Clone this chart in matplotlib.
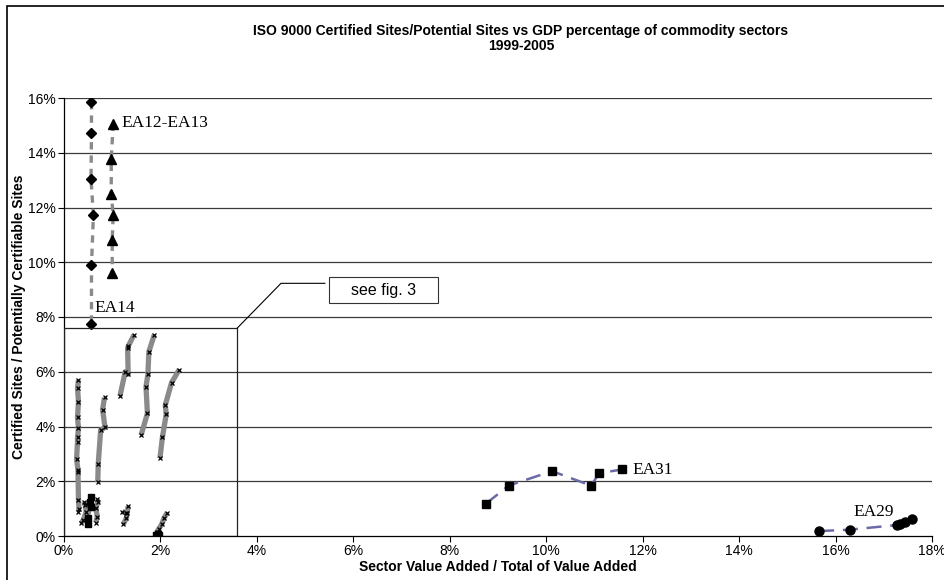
import matplotlib
matplotlib.use('Agg')
import matplotlib.pyplot as plt
from matplotlib.patches import Rectangle

plt.rcParams['font.family'] = ['Liberation Sans', 'DejaVu Sans']

# labelled sectors (values in %)
ea14_x = [0.57, 0.57, 0.56, 0.61, 0.57, 0.57]
ea14_y = [15.85, 14.72, 13.03, 11.72, 9.89, 7.74]

ea1213_x = [1.02, 0.98, 0.98, 1.02, 1.00, 1.00]
ea1213_y = [15.06, 13.78, 12.50, 11.72, 10.80, 9.61]

ea31_x = [8.75, 9.22, 10.12, 10.93, 11.10, 11.58]
ea31_y = [1.18, 1.84, 2.37, 1.84, 2.30, 2.43]

ea29_x = [15.66, 16.29, 17.27, 17.33, 17.43, 17.59]
ea29_y = [0.18, 0.23, 0.40, 0.43, 0.52, 0.61]

# small sectors shown in detail in fig. 3
small_sectors = [
    ([0.30, 0.28, 0.30, 0.28, 0.30, 0.28, 0.28, 0.26, 0.29, 0.29, 0.30, 0.31, 0.30],
     [5.69, 5.41, 4.90, 4.33, 3.93, 3.60, 3.44, 2.80, 2.41, 2.35, 1.31, 1.00, 0.89]),
    ([0.70, 0.71, 0.76, 0.85, 0.80, 0.84], [1.96, 2.63, 3.87, 3.97, 4.62, 5.06]),
    ([1.16, 1.27, 1.33, 1.32, 1.33, 1.45], [5.11, 6.00, 5.91, 6.85, 6.93, 7.34]),
    ([1.60, 1.73, 1.70, 1.74, 1.76, 1.87], [3.69, 4.48, 5.45, 5.91, 6.73, 7.34]),
    ([1.99, 2.04, 2.12, 2.10, 2.23, 2.39], [2.84, 3.60, 4.45, 4.78, 5.60, 6.08]),
    ([1.92, 1.96, 2.03, 2.07, 2.14], [0.13, 0.24, 0.44, 0.64, 0.85]),
    ([1.33, 1.31, 1.29, 1.23], [1.09, 0.83, 0.64, 0.43]),
    ([1.21, 1.29], [0.89, 0.85]),
    ([0.42, 0.44, 0.46, 0.40, 0.35], [1.25, 1.13, 0.89, 0.58, 0.46]),
    ([0.69, 0.70, 0.66, 0.69, 0.66], [1.34, 1.25, 1.01, 0.71, 0.49]),
]
sq_small_x = [0.55, 0.53, 0.57, 0.49, 0.49]
sq_small_y = [1.43, 1.25, 1.05, 0.64, 0.44]
sq_bottom_x = [1.90, 1.93, 1.96, 1.95]
sq_bottom_y = [0.05, 0.03, 0.02, 0.06]

xticks = [0, 2, 4, 6, 8, 10, 12, 14, 16, 18]
yticks = [0, 2, 4, 6, 8, 10, 12, 14, 16]

fig = plt.figure(figsize=(9.45, 5.8), dpi=100)
ax = fig.add_axes([64 / 945, 44 / 580, 868 / 945, 438 / 580])

ax.set_xlim(0, 18)
ax.set_ylim(0, 16)
for y in yticks[1:]:
    ax.axhline(y, color='#3a3a3a', lw=0.9, zorder=0)

ser_gray = '#8a8a8a'
for xs, ys in small_sectors:
    ax.plot(xs, ys, color=ser_gray, lw=3.8, solid_capstyle='butt', zorder=2)
    ax.plot(xs, ys, ls='none', marker='x', ms=3, mew=0.9, color='black', zorder=3)
ax.plot(sq_small_x, sq_small_y, color=ser_gray, lw=2, zorder=2)
ax.plot(sq_small_x, sq_small_y, ls='none', marker='s', ms=4, color='black', zorder=3)
ax.plot(sq_bottom_x, sq_bottom_y, ls='none', marker='s', ms=5, color='black', zorder=3)

ax.plot(ea14_x, ea14_y, color=ser_gray, lw=2.4, dashes=(2.2, 1.8), zorder=2)
ax.plot(ea14_x, ea14_y, ls='none', marker='D', ms=5, color='black', zorder=3)
ax.plot(ea1213_x, ea1213_y, color=ser_gray, lw=2.4, dashes=(2.2, 1.8), zorder=2)
ax.plot(ea1213_x, ea1213_y, ls='none', marker='^', ms=6.5, color='black', zorder=3)

blue = '#6a6aa6'
ax.plot(ea31_x, ea31_y, color=blue, lw=1.8, dashes=(6, 3.5), zorder=2)
ax.plot(ea31_x, ea31_y, ls='none', marker='s', ms=6, color='black', zorder=3)
ax.plot(ea29_x, ea29_y, color=blue, lw=1.8, dashes=(6, 3.5), zorder=2)
ax.plot(ea29_x, ea29_y, ls='none', marker='o', ms=6.5, color='black', zorder=3)

serif = ['Liberation Serif', 'DejaVu Serif']
ax.text(1.20, 15.07, 'EA12-EA13', family=serif, fontsize=12.5, va='center', zorder=4)
ax.text(0.64, 8.32, 'EA14', family=serif, fontsize=12.5, va='center', zorder=4,
        bbox=dict(facecolor='white', edgecolor='none', pad=0.5))
ax.text(11.78, 2.41, 'EA31', family=serif, fontsize=12.5, va='center', zorder=4)
ax.text(16.38, 0.86, 'EA29', family=serif, fontsize=12.5, va='center', zorder=4)

# zoom box and callout
ax.add_patch(Rectangle((0, 0), 3.59, 7.59, fill=False, edgecolor='#222222', lw=0.9, zorder=4))
ax.plot([3.59, 4.50, 5.41], [7.59, 9.23, 9.23], color='black', lw=0.8, zorder=4)
ax.add_patch(Rectangle((5.50, 8.50), 2.26, 0.95, facecolor='white', edgecolor='#333333',
                       lw=0.8, zorder=5))
ax.text(6.63, 8.97, 'see fig. 3', fontsize=11.5, ha='center', va='center', zorder=6)

ax.set_xticks(xticks)
ax.set_xticklabels([f'{t}%' for t in xticks])
ax.set_yticks(yticks)
ax.set_yticklabels([f'{t}%' for t in yticks])
ax.tick_params(direction='out', length=4, width=0.8, labelsize=10, pad=2)
for side in ['top', 'right']:
    ax.spines[side].set_visible(False)
for side in ['left', 'bottom']:
    ax.spines[side].set_linewidth(0.9)

ax.set_xlabel('Sector Value Added / Total of Value Added', fontsize=10, fontweight='bold', labelpad=1.5)
ax.set_ylabel('Certified Sites / Potentially Certifiable Sites', fontsize=10, fontweight='bold', labelpad=1)

fig.text(521 / 945, 1 - 31 / 580, 'ISO 9000 Certified Sites/Potential Sites vs GDP percentage of commodity sectors',
         ha='center', va='center', fontsize=10, fontweight='bold')
fig.text(521 / 945, 1 - 46 / 580, '1999-2005', ha='center', va='center', fontsize=10, fontweight='bold')

# chart area frame
fig.patches.append(Rectangle((7 / 945, -0.1), 1.2, 1.1 - 6 / 580, transform=fig.transFigure,
                             fill=False, edgecolor='black', lw=1.2))

fig.savefig('out.png', dpi=100)
